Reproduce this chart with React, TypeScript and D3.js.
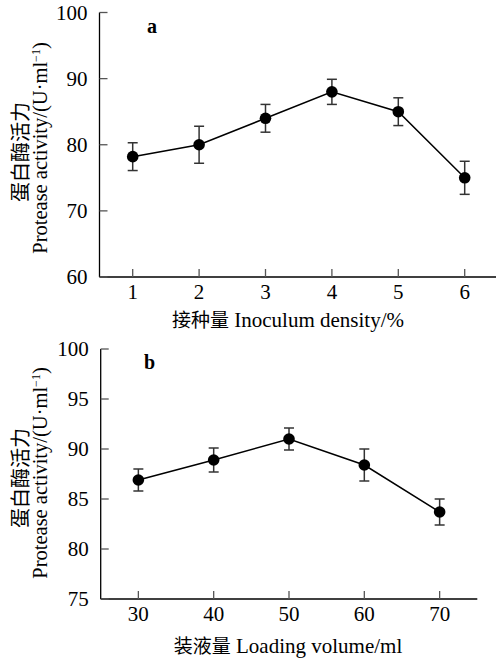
import React from "react";
import * as d3 from "d3";

const inoculum = [1, 2, 3, 4, 5, 6];
const activityA = [78.2, 80.0, 84.0, 88.0, 85.0, 75.0];
const errA = [2.1, 2.8, 2.1, 1.9, 2.1, 2.5];
const yTicksA = [60, 70, 80, 90, 100];

const volume = [30, 40, 50, 60, 70];
const activityB = [86.9, 88.9, 91.0, 88.4, 83.7];
const errB = [1.1, 1.2, 1.1, 1.6, 1.3];
const yTicksB = [75, 80, 85, 90, 95, 100];

const FONT = "'Liberation Serif', 'Times New Roman', serif";
const CJK = "'Noto Sans CJK SC', sans-serif";

type PanelProps = {
  xs: number[];
  ys: number[];
  errs: number[];
  xDomain: [number, number];
  yDomain: [number, number];
  yTicks: number[];
  xRange: [number, number];
  yRange: [number, number];
  letter: string;
  letterPos: [number, number];
  xTitleCn: string;
  xTitleEn: string;
  xTitleX: number;
  tickLabelY: number;
  titleY: number;
  cnCenter: number;
  enCenter: number;
};

function Panel(p: PanelProps) {
  const x = d3.scaleLinear().domain(p.xDomain).range(p.xRange);
  const y = d3.scaleLinear().domain(p.yDomain).range(p.yRange);
  const line = d3
    .line<number>()
    .x((_, i) => x(p.xs[i]))
    .y((d) => y(d));
  const x0 = p.xRange[0];
  const y0 = p.yRange[0];
  const tickColor = "#555";
  return (
    <g>
      <line x1={x0} x2={x0} y1={p.yRange[1]} y2={y0} stroke="#000" strokeWidth={1.3} />
      <line x1={x0} x2={p.xRange[1]} y1={y0} y2={y0} stroke="#000" strokeWidth={1.3} />
      {p.yTicks.map((t) => (
        <g key={"y" + t}>
          <line x1={x0} x2={x0 + 8} y1={y(t)} y2={y(t)} stroke={tickColor} strokeWidth={1.3} />
          <text x={x0 - 12} y={y(t)} dy="0.35em" textAnchor="end" fontFamily={FONT} fontSize={21}>
            {t}
          </text>
        </g>
      ))}
      {p.xs.map((t) => (
        <g key={"x" + t}>
          <line x1={x(t)} x2={x(t)} y1={y0} y2={y0 - 8} stroke={tickColor} strokeWidth={1.3} />
          <text x={x(t)} y={p.tickLabelY} textAnchor="middle" fontFamily={FONT} fontSize={21}>
            {t}
          </text>
        </g>
      ))}
      {p.xs.map((xv, i) => {
        const cx = x(xv);
        const top = y(p.ys[i] + p.errs[i]);
        const bot = y(p.ys[i] - p.errs[i]);
        return (
          <g key={"e" + i} stroke="#333" strokeWidth={1.5}>
            <line x1={cx} x2={cx} y1={top} y2={bot} />
            <line x1={cx - 5} x2={cx + 5} y1={top} y2={top} />
            <line x1={cx - 5} x2={cx + 5} y1={bot} y2={bot} />
          </g>
        );
      })}
      <path d={line(p.ys) || ""} fill="none" stroke="#000" strokeWidth={1.5} />
      {p.xs.map((xv, i) => (
        <circle key={"c" + i} cx={x(xv)} cy={y(p.ys[i])} r={5.8} fill="#000" />
      ))}
      <text x={p.letterPos[0]} y={p.letterPos[1]} fontFamily={FONT} fontSize={20} fontWeight="bold">
        {p.letter}
      </text>
      <text x={p.xTitleX} y={p.titleY} textAnchor="middle" fontSize={21} fontFamily={FONT}>
        <tspan fontFamily={CJK} fontSize={19}>{p.xTitleCn}</tspan>
        <tspan> {p.xTitleEn}</tspan>
      </text>
      <text
        transform={`translate(28,${p.cnCenter}) rotate(-90)`}
        textAnchor="middle"
        fontFamily={CJK}
        fontSize={20}
      >
        蛋白酶活力
      </text>
      <text
        transform={`translate(47,${p.enCenter}) rotate(-90)`}
        textAnchor="middle"
        fontFamily={FONT}
        fontSize={20.5}
      >
        Protease activity/(U·ml
        <tspan dy={-7} fontSize={12}>−1</tspan>
        <tspan dy={7}>)</tspan>
      </text>
    </g>
  );
}

export default function App() {
  return (
    <svg
      width={496}
      height={661}
      style={{ position: "absolute", left: 0, top: 0, background: "#fff" }}
    >
      <rect width={496} height={661} fill="#fff" />
      <Panel
        xs={inoculum}
        ys={activityA}
        errs={errA}
        xDomain={[0.5, 6.5]}
        yDomain={[60, 100]}
        yTicks={yTicksA}
        xRange={[99.5, 497.9]}
        yRange={[277, 12.5]}
        letter="a"
        letterPos={[147, 33]}
        xTitleCn="接种量"
        xTitleEn="Inoculum density/%"
        xTitleX={288}
        tickLabelY={299}
        titleY={327}
        cnCenter={152}
        enCenter={148}
      />
      <Panel
        xs={volume}
        ys={activityB}
        errs={errB}
        xDomain={[25, 75]}
        yDomain={[75, 100]}
        yTicks={yTicksB}
        xRange={[100.7, 477.3]}
        yRange={[599, 349]}
        letter="b"
        letterPos={[144, 369]}
        xTitleCn="装液量"
        xTitleEn="Loading volume/ml"
        xTitleX={288}
        tickLabelY={621}
        titleY={653}
        cnCenter={478}
        enCenter={473}
      />
    </svg>
  );
}
